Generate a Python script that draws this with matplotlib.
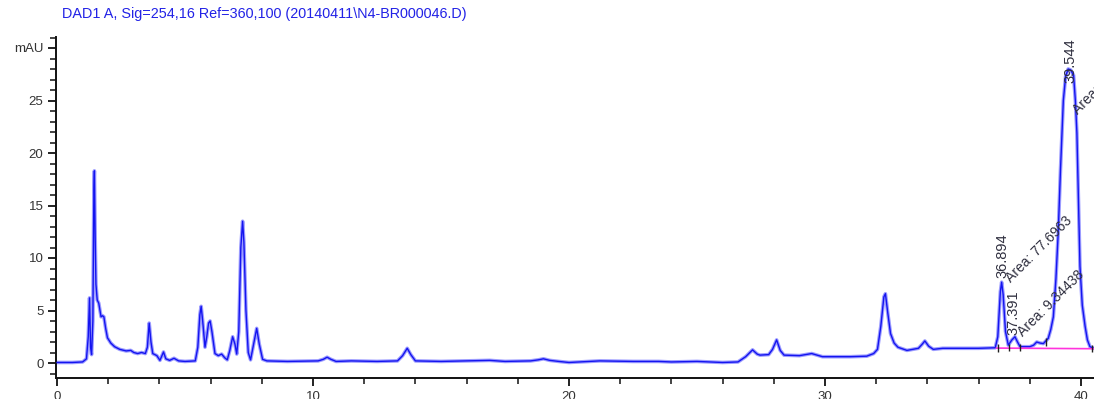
import matplotlib
matplotlib.use("Agg")
import matplotlib.pyplot as plt
from matplotlib.ticker import MultipleLocator

plt.rcParams['font.family'] = ['Liberation Sans', 'DejaVu Sans']

# ---- data (time in min, signal in mAU) ----
time_min = [
    0.0, 0.6, 1.0, 1.15, 1.22, 1.27, 1.31, 1.35, 1.40, 1.44, 1.46, 1.49, 1.52,
    1.57, 1.63, 1.68, 1.72, 1.78, 1.83, 1.90, 1.97, 2.10, 2.25, 2.45, 2.70,
    2.88, 3.00, 3.15, 3.30, 3.45, 3.53, 3.60, 3.67, 3.74, 3.90, 4.02, 4.10,
    4.16, 4.25, 4.40, 4.57, 4.75, 5.00, 5.40, 5.50, 5.58, 5.63, 5.69, 5.78,
    5.85, 5.92, 5.98, 6.05, 6.17, 6.30, 6.43, 6.55, 6.65, 6.75, 6.86, 6.95,
    7.02, 7.10, 7.18, 7.25, 7.30, 7.38, 7.47, 7.56, 7.68, 7.80, 7.90, 8.03,
    8.20, 9.00, 10.20, 10.40, 10.55, 10.70, 10.90, 11.50, 12.50, 13.30, 13.50,
    13.68, 13.82, 14.00, 15.00, 16.00, 16.90, 17.50, 18.50, 18.80, 19.00,
    19.25, 19.60, 20.00, 21.20, 22.50, 23.50, 24.00, 25.00, 26.00, 26.60,
    26.90, 27.17, 27.35, 27.46, 27.80, 27.95, 28.11, 28.25, 28.40, 29.00,
    29.48, 29.90, 31.00, 31.63, 31.90, 32.05, 32.18, 32.30, 32.36, 32.45,
    32.56, 32.70, 32.85, 33.20, 33.65, 33.80, 33.90, 34.05, 34.23, 34.60,
    35.30, 36.00, 36.65, 36.75, 36.85, 36.90, 36.96, 37.05, 37.16, 37.30,
    37.42, 37.52, 37.62, 38.00, 38.15, 38.27, 38.40, 38.53, 38.72, 38.82,
    38.92, 39.02, 39.11, 39.20, 39.31, 39.40, 39.50, 39.60, 39.71, 39.78,
    39.84, 39.90, 39.96, 40.05, 40.16, 40.25, 40.35, 40.50,
]
signal_mau = [
    0.05, 0.05, 0.10, 0.40, 2.50, 6.20, 1.50, 0.80, 4.00, 16.5, 18.3, 12.0, 7.5,
    6.0, 5.7, 5.0, 4.4, 4.5, 4.4, 3.3, 2.4, 1.9, 1.55, 1.3, 1.15,
    1.2, 1.0, 0.9, 1.0, 0.9, 1.5, 3.8, 2.0, 0.9, 0.7, 0.25, 0.7,
    1.05, 0.4, 0.25, 0.45, 0.2, 0.15, 0.2, 1.5, 4.6, 5.4, 4.0, 1.5,
    2.5, 3.8, 4.0, 3.0, 0.9, 0.7, 0.85, 0.5, 0.3, 1.2, 2.5, 1.8,
    0.85, 3.0, 11.0, 13.5, 11.5, 5.0, 1.0, 0.3, 1.8, 3.3, 1.8, 0.35,
    0.2, 0.15, 0.2, 0.35, 0.55, 0.35, 0.15, 0.2, 0.15, 0.2, 0.7,
    1.4, 0.8, 0.2, 0.15, 0.2, 0.25, 0.15, 0.2, 0.3, 0.4,
    0.25, 0.15, 0.05, 0.2, 0.15, 0.15, 0.1, 0.15, 0.05, 0.1,
    0.6, 1.25, 0.85, 0.75, 0.8, 1.3, 2.2, 1.2, 0.75, 0.7,
    0.9, 0.6, 0.6, 0.65, 0.9, 1.3, 3.5, 6.3, 6.6, 4.8,
    2.8, 1.9, 1.5, 1.2, 1.4, 1.8, 2.1, 1.6, 1.3, 1.4,
    1.4, 1.4, 1.45, 2.5, 6.8, 7.7, 6.5, 3.0, 1.7, 2.2,
    2.5, 2.0, 1.55, 1.55, 1.7, 2.0, 1.9, 1.85, 2.35, 3.2,
    4.4, 8.0, 12.4, 18.5, 25.0, 27.3, 28.0, 27.9, 27.4, 25.0,
    21.9, 15.5, 9.2, 5.5, 3.5, 2.2, 1.55, 1.4,
]

# integration baseline and peak-boundary markers
baseline_t = [36.70, 40.50]
baseline_y = [1.42, 1.36]
marker_t = [36.76, 37.19, 37.62, 38.63, 40.42]
marker_y = [1.42, 1.45, 1.50, 2.00, 1.38]

# peak labels
rt_labels = ["36.894", "37.391", "39.544"]
rt_pos_t = [36.92, 37.38, 39.60]
rt_pos_y = [8.1, 2.7, 26.7]
area_labels = ["Area: 77.6963", "Area: 9.34438", "Area: 288.536"]
area_pos_t = [37.17, 37.62, 39.76]
area_pos_y = [7.9, 2.7, 23.9]

title = r"DAD1 A, Sig=254,16 Ref=360,100 (20140411\N4-BR000046.D)"
ytick_vals = [0, 5, 10, 15, 20, 25, 30]
ytick_labels = ["0", "5", "10", "15", "20", "25", "mAU"]
xtick_vals = [0, 10, 20, 30, 40]

W, H = 1094, 399
fig = plt.figure(figsize=(W / 100, H / 100), dpi=100)
ax = fig.add_axes([56 / W, (H - 378) / H, 1 - 56 / W, (378 - 37) / H])

# blurred-looking blue trace
ax.plot(time_min, signal_mau, color="#9c9cff", lw=2.6, solid_joinstyle="round", zorder=2)
ax.plot(time_min, signal_mau, color="#1414f0", lw=1.0, solid_joinstyle="round", zorder=3)

ax.plot(baseline_t, baseline_y, color="#ff33dd", lw=1.2, zorder=4)
ax.vlines(marker_t, [v - 0.35 for v in marker_y], [v + 0.35 for v in marker_y],
          color="#202020", lw=1.0, zorder=5)

for lab, t, y in zip(rt_labels, rt_pos_t, rt_pos_y):
    ax.text(t, y, lab, rotation=90, ha="center", va="bottom", fontsize=10.5,
            color="#303040", zorder=6, clip_on=False)
for lab, t, y in zip(area_labels, area_pos_t, area_pos_y):
    ax.text(t, y, lab, rotation=45, rotation_mode="anchor", ha="left", va="center",
            fontsize=10, color="#303040", zorder=6, clip_on=False)

ax.set_xlim(-0.04, (W - 57) / 25.6)
ax.set_ylim((363 - 378) / 10.5, (363 - 37) / 10.5)

for s in ["top", "right"]:
    ax.spines[s].set_visible(False)
for s in ["left", "bottom"]:
    ax.spines[s].set_linewidth(1.4)
    ax.spines[s].set_color("#111111")

ax.set_yticks(ytick_vals)
ax.set_yticklabels(ytick_labels)
ax.set_xticks(xtick_vals)
ax.xaxis.set_minor_locator(MultipleLocator(2))
ax.yaxis.set_minor_locator(MultipleLocator(1))
ax.tick_params(axis="both", which="major", length=6, width=1.3, colors="#111111",
               labelsize=9.5, labelcolor="#333333", direction="out")
ax.tick_params(axis="both", which="minor", length=4, width=1.1, colors="#111111",
               direction="out")
ax.tick_params(axis="y", pad=3)
ax.tick_params(axis="x", pad=3)

fig.text(62 / W, 1 - 14 / H, title, color="#2222e6", fontsize=10.4,
         ha="left", va="center")

fig.savefig("out.png", dpi=100)
